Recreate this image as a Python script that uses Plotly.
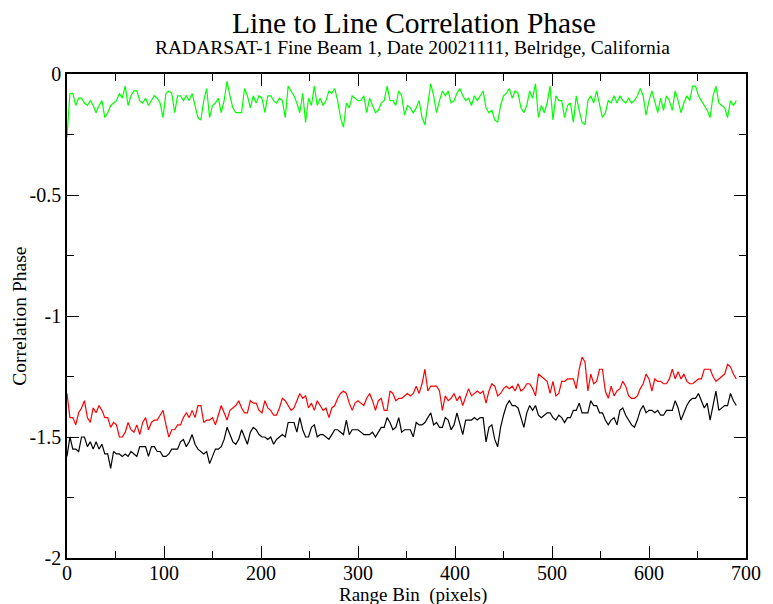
import plotly.graph_objects as go

# range bins sampled every 3 pixels
range_bin = list(range(0, 691, 3))

green_phase = [
    -0.26, -0.08, -0.08, -0.13, -0.10, -0.10, -0.12, -0.13, -0.11, -0.13,
    -0.16, -0.13, -0.11, -0.18, -0.16, -0.13, -0.12, -0.11, -0.08, -0.10,
    -0.05, -0.13, -0.09, -0.07, -0.07, -0.11, -0.12, -0.10, -0.13, -0.11,
    -0.09, -0.10, -0.12, -0.18, -0.08, -0.07, -0.08, -0.16, -0.09, -0.09,
    -0.11, -0.09, -0.11, -0.08, -0.13, -0.18, -0.19, -0.11, -0.06, -0.18,
    -0.13, -0.12, -0.10, -0.16, -0.11, -0.03, -0.09, -0.14, -0.16,
    -0.16, -0.16, -0.06, -0.09, -0.14, -0.09, -0.12, -0.09, -0.10, -0.16,
    -0.09, -0.09, -0.11, -0.12, -0.10, -0.11, -0.18, -0.05, -0.07, -0.09,
    -0.12, -0.16, -0.08, -0.20, -0.10, -0.13, -0.05, -0.13, -0.10, -0.13,
    -0.11, -0.07, -0.08, -0.06, -0.11, -0.18, -0.22, -0.12, -0.14, -0.09,
    -0.10, -0.11, -0.11, -0.09, -0.16, -0.10, -0.13, -0.16, -0.15, -0.12,
    -0.11, -0.05, -0.11, -0.11, -0.13, -0.07, -0.09, -0.17, -0.13,
    -0.14, -0.16, -0.14, -0.11, -0.18, -0.21, -0.12, -0.04, -0.09, -0.16,
    -0.11, -0.07, -0.09, -0.07, -0.12, -0.11, -0.08, -0.06, -0.09, -0.11,
    -0.10, -0.13, -0.09, -0.11, -0.09, -0.07, -0.14, -0.16, -0.15, -0.19,
    -0.20, -0.13, -0.09, -0.08, -0.06, -0.10, -0.07, -0.08, -0.14, -0.16,
    -0.13, -0.07, -0.10, -0.04, -0.18, -0.13, -0.16, -0.12, -0.05, -0.19,
    -0.09, -0.11, -0.11, -0.18, -0.13, -0.12, -0.20, -0.09, -0.15,
    -0.20, -0.21, -0.11, -0.09, -0.12, -0.07, -0.12, -0.18, -0.16, -0.11,
    -0.12, -0.09, -0.12, -0.09, -0.11, -0.12, -0.10, -0.12, -0.11, -0.09,
    -0.06, -0.09, -0.17, -0.11, -0.07, -0.12, -0.16, -0.10, -0.15, -0.09,
    -0.11, -0.15, -0.07, -0.11, -0.16, -0.12, -0.09, -0.11, -0.05, -0.05,
    -0.09, -0.11, -0.13, -0.15, -0.18, -0.09, -0.05, -0.12, -0.13, -0.14,
    -0.18, -0.11, -0.13, -0.11,
]

red_phase = [
    -1.32, -1.42, -1.42, -1.45, -1.40, -1.38, -1.35, -1.42, -1.44, -1.38,
    -1.40, -1.37, -1.39, -1.42, -1.42, -1.46, -1.44, -1.45, -1.50, -1.50,
    -1.48, -1.44, -1.47, -1.48, -1.45, -1.49, -1.44, -1.42, -1.47, -1.44,
    -1.43, -1.43, -1.41, -1.39, -1.45, -1.50, -1.47, -1.47, -1.45, -1.45,
    -1.42, -1.40, -1.42, -1.39, -1.42, -1.37, -1.37, -1.44, -1.43, -1.43,
    -1.42, -1.45, -1.41, -1.37, -1.40, -1.43, -1.39, -1.38, -1.37,
    -1.35, -1.38, -1.40, -1.40, -1.35, -1.36, -1.36, -1.39, -1.40, -1.35,
    -1.38, -1.39, -1.41, -1.41, -1.38, -1.34, -1.35, -1.37, -1.39, -1.38,
    -1.35, -1.32, -1.34, -1.33, -1.38, -1.36, -1.39, -1.35, -1.37, -1.39,
    -1.38, -1.42, -1.38, -1.37, -1.34, -1.32, -1.31, -1.32, -1.36, -1.39,
    -1.36, -1.35, -1.36, -1.37, -1.34, -1.32, -1.35, -1.39, -1.35, -1.34,
    -1.39, -1.39, -1.31, -1.32, -1.35, -1.34, -1.34, -1.33, -1.32,
    -1.33, -1.32, -1.29, -1.32, -1.28, -1.22, -1.31, -1.29, -1.29, -1.29,
    -1.31, -1.39, -1.33, -1.35, -1.34, -1.32, -1.35, -1.33, -1.37, -1.33,
    -1.30, -1.33, -1.32, -1.31, -1.32, -1.31, -1.36, -1.31, -1.28, -1.29,
    -1.33, -1.32, -1.30, -1.29, -1.30, -1.29, -1.31, -1.28, -1.31, -1.30,
    -1.28, -1.28, -1.30, -1.33, -1.24, -1.25, -1.26, -1.27, -1.32, -1.27,
    -1.33, -1.32, -1.27, -1.27, -1.26, -1.26, -1.26, -1.30, -1.22,
    -1.17, -1.19, -1.31, -1.24, -1.28, -1.27, -1.22, -1.22, -1.31, -1.34,
    -1.29, -1.33, -1.31, -1.30, -1.27, -1.29, -1.33, -1.34, -1.34, -1.33,
    -1.30, -1.28, -1.24, -1.26, -1.31, -1.26, -1.27, -1.27, -1.28, -1.28,
    -1.26, -1.22, -1.26, -1.23, -1.26, -1.24, -1.27, -1.28, -1.28, -1.27,
    -1.26, -1.26, -1.22, -1.22, -1.22, -1.25, -1.27, -1.26, -1.25, -1.24,
    -1.20, -1.21, -1.24, -1.26,
]

black_phase = [
    -1.58, -1.50, -1.55, -1.55, -1.56, -1.50, -1.50, -1.54, -1.52, -1.55,
    -1.52, -1.55, -1.53, -1.57, -1.57, -1.63, -1.56, -1.57, -1.57, -1.58,
    -1.57, -1.58, -1.56, -1.57, -1.58, -1.54, -1.54, -1.54, -1.58, -1.54,
    -1.54, -1.56, -1.56, -1.58, -1.58, -1.57, -1.55, -1.55, -1.55, -1.52,
    -1.51, -1.54, -1.52, -1.49, -1.53, -1.55, -1.56, -1.57, -1.56, -1.61,
    -1.58, -1.55, -1.55, -1.54, -1.51, -1.46, -1.49, -1.52, -1.53,
    -1.51, -1.47, -1.50, -1.53, -1.48, -1.46, -1.47, -1.49, -1.50, -1.50,
    -1.51, -1.50, -1.53, -1.51, -1.50, -1.49, -1.50, -1.44, -1.44, -1.44,
    -1.48, -1.42, -1.47, -1.50, -1.50, -1.46, -1.45, -1.50, -1.49, -1.49,
    -1.50, -1.51, -1.49, -1.47, -1.47, -1.48, -1.49, -1.43, -1.49, -1.47,
    -1.47, -1.47, -1.48, -1.49, -1.49, -1.49, -1.48, -1.50, -1.48, -1.46,
    -1.46, -1.42, -1.44, -1.47, -1.46, -1.42, -1.48, -1.47, -1.47,
    -1.47, -1.50, -1.44, -1.45, -1.45, -1.44, -1.42, -1.40, -1.45, -1.44,
    -1.46, -1.46, -1.42, -1.43, -1.47, -1.45, -1.40, -1.44, -1.49, -1.43,
    -1.43, -1.43, -1.42, -1.43, -1.42, -1.42, -1.52, -1.46, -1.45, -1.51,
    -1.54, -1.46, -1.41, -1.37, -1.35, -1.37, -1.37, -1.38, -1.42, -1.46,
    -1.40, -1.37, -1.39, -1.37, -1.41, -1.42, -1.41, -1.40, -1.40, -1.42,
    -1.43, -1.41, -1.42, -1.44, -1.42, -1.42, -1.39, -1.39, -1.36,
    -1.40, -1.40, -1.40, -1.35, -1.37, -1.37, -1.40, -1.40, -1.43, -1.45,
    -1.43, -1.42, -1.45, -1.39, -1.38, -1.41, -1.43, -1.45, -1.46, -1.43,
    -1.39, -1.37, -1.40, -1.39, -1.39, -1.40, -1.39, -1.41, -1.41, -1.39,
    -1.39, -1.39, -1.35, -1.38, -1.43, -1.40, -1.37, -1.35, -1.34, -1.34,
    -1.32, -1.35, -1.38, -1.36, -1.43, -1.37, -1.31, -1.39, -1.38, -1.37,
    -1.37, -1.32, -1.35, -1.37,
]

x_ticks = [0, 100, 200, 300, 400, 500, 600, 700]
y_ticks = [0, -0.5, -1, -1.5, -2]
y_tick_text = ['0', '-0.5', '-1', '-1.5', '-2']

FONT = 'Liberation Serif, Times New Roman, serif'

fig = go.Figure()
for vals, color in [(green_phase, '#00ff00'), (red_phase, '#ff0000'), (black_phase, '#000000')]:
    fig.add_trace(go.Scatter(x=range_bin, y=vals, mode='lines',
                             line=dict(color=color, width=1.2), showlegend=False))

axis_common = dict(
    showline=True, linecolor='black', linewidth=1.5, mirror='allticks',
    ticks='inside', ticklen=12, tickwidth=1.2, tickcolor='black',
    showgrid=False, zeroline=False,
    tickfont=dict(family=FONT, size=20, color='black'),
)

# page body has an 8px margin, so the figure is a bit smaller than the window
fig.update_layout(
    width=765, height=596,
    margin=dict(l=59, r=16, t=66, b=46),
    paper_bgcolor='white', plot_bgcolor='white',
    xaxis=dict(range=[0, 700], tickvals=x_ticks, ticklabelstandoff=-4,
               minor=dict(ticks='inside', ticklen=7, dtick=50, tickcolor='black', showgrid=False),
               **axis_common),
    yaxis=dict(range=[-2, 0], tickvals=y_ticks, ticktext=y_tick_text,
               minor=dict(ticks='inside', ticklen=7, dtick=0.25, tickcolor='black', showgrid=False),
               **axis_common),
    annotations=[
        dict(text='Line to Line Correlation Phase', xref='paper', yref='paper',
             x=0.511, y=1.105, showarrow=False, xanchor='center', yanchor='middle',
             font=dict(family=FONT, size=29.5, color='black')),
        dict(text='RADARSAT-1 Fine Beam 1, Date 20021111, Belridge, California',
             xref='paper', yref='paper', x=0.509, y=1.054, showarrow=False,
             xanchor='center', yanchor='middle',
             font=dict(family=FONT, size=19.5, color='black')),
        dict(text='Range Bin\u00a0 (pixels)', xref='paper', yref='paper',
             x=0.509, y=-0.076, showarrow=False, xanchor='center', yanchor='middle',
             font=dict(family=FONT, size=19, color='black')),
        dict(text='Correlation Phase', xref='paper', yref='paper',
             x=-0.071, y=0.5, showarrow=False, textangle=-90,
             xanchor='center', yanchor='middle',
             font=dict(family=FONT, size=19.5, color='black')),
    ],
)

fig.write_html('out.html')
